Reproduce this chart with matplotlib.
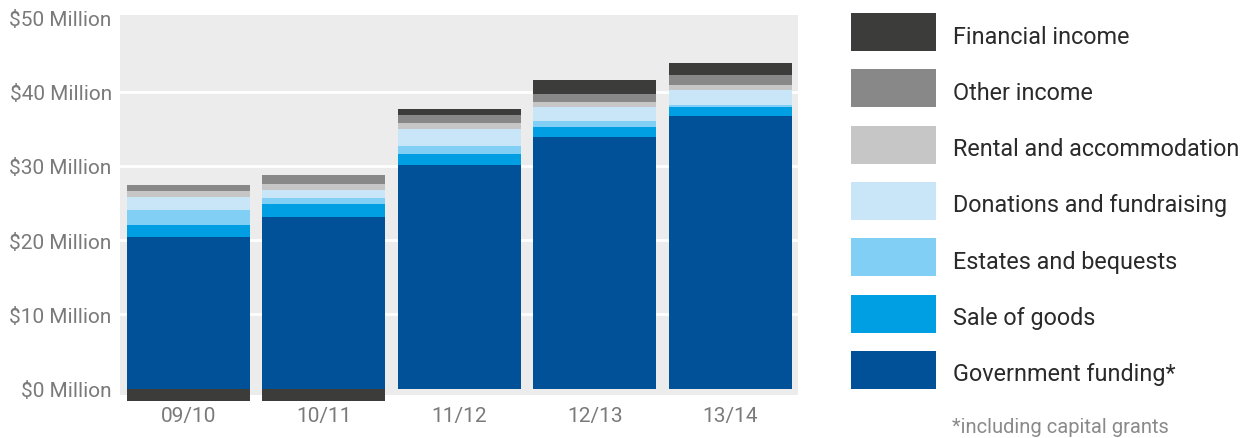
import matplotlib
matplotlib.use("Agg")
import matplotlib.pyplot as plt
from matplotlib.patches import Rectangle

plt.rcParams['font.family'] = ['Roboto', 'DejaVu Sans']

# income by year, $ million
years = ['09/10', '10/11', '11/12', '12/13', '13/14']
government_funding = [20.4, 23.1, 30.1, 33.9, 36.7]
sale_of_goods = [1.7, 1.7, 1.5, 1.3, 1.2]
estates_bequests = [2.0, 0.8, 1.1, 0.8, 0.3]
donations_fundraising = [1.7, 1.2, 2.3, 1.9, 2.0]
rental_accommodation = [0.8, 0.7, 0.7, 0.7, 0.7]
other_income = [0.8, 1.3, 1.1, 1.1, 1.3]
financial_income = [-1.6, -1.6, 0.9, 1.9, 1.7]

series = [
    ('Government funding*', government_funding, '#005198'),
    ('Sale of goods', sale_of_goods, '#009fe3'),
    ('Estates and bequests', estates_bequests, '#81cff4'),
    ('Donations and fundraising', donations_fundraising, '#c8e6f8'),
    ('Rental and accommodation', rental_accommodation, '#c6c6c6'),
    ('Other income', other_income, '#888888'),
    ('Financial income', financial_income, '#3c3c3b'),
]

W, H = 1247, 439
fig = plt.figure(figsize=(W / 100, H / 100), dpi=100)
ax = fig.add_axes([120 / W, 1 - 396 / H, 678 / W, 380 / H])
ax.set_facecolor('#ececec')

x = range(len(years))
pos = [0.0] * len(years)
neg = [0.0] * len(years)
for name, vals, col in series:
    bottoms = []
    for i, v in enumerate(vals):
        if v >= 0:
            bottoms.append(pos[i])
            pos[i] += v
        else:
            bottoms.append(neg[i])
            neg[i] += v
    ax.bar(x, vals, bottom=bottoms, width=0.908, color=col, zorder=3, clip_on=False)

for yv in [10, 20, 30, 40]:
    ax.axhline(yv, color='white', lw=2, zorder=1)

ax.set_xlim(-0.505, 4.5)
ax.set_ylim(-0.85, 50.3)
ax.set_xticks(list(x))
ax.set_xticklabels(years)
ax.set_yticks(range(0, 51, 10))
ax.set_yticklabels(['$%d Million' % v for v in range(0, 51, 10)])
ax.tick_params(length=0, labelsize=15, colors='#7a7a7a')
ax.tick_params(axis='x', pad=8)
ax.tick_params(axis='y', pad=6)
for s in ax.spines.values():
    s.set_visible(False)

# legend, top to bottom
for k, (name, vals, col) in enumerate(reversed(series)):
    top = 14 + k * 56.3
    fig.add_artist(Rectangle((851 / W, 1 - (top + 38) / H), 85 / W, 38 / H,
                             transform=fig.transFigure, color=col, lw=0))
    fig.text(953 / W, 1 - (top + 23) / H, name, fontsize=16.8,
             color='#2a2a2a', va='center', ha='left')

fig.text(952 / W, 1 - 428 / H, '*including capital grants', fontsize=14.5,
         color='#8a8a8a', va='center', ha='left')

fig.savefig('out.png', dpi=100)
